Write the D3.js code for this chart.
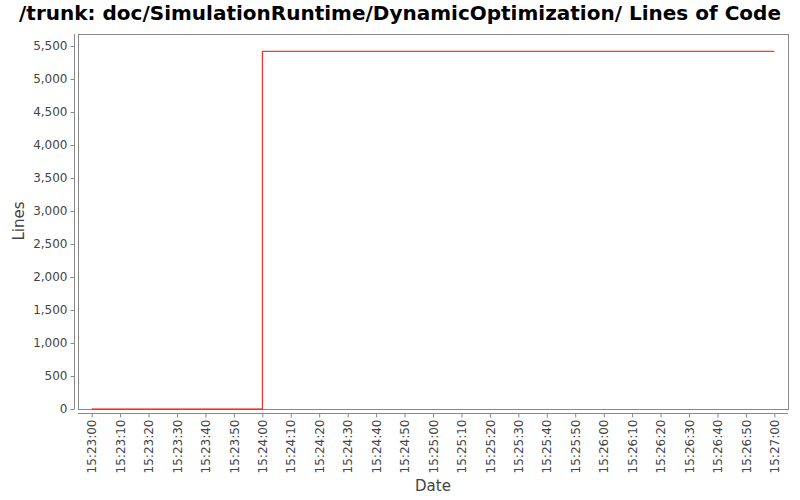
<!DOCTYPE html>
<html><head><meta charset="utf-8">
<script src="https://cdn.jsdelivr.net/npm/d3@7"></script>
<style>body{margin:0;background:#fff}svg{display:block}text{font-family:"DejaVu Sans",sans-serif}</style>
</head><body>
<svg id="c" width="800" height="500"></svg>
<script>
const title = "/trunk: doc/SimulationRuntime/DynamicOptimization/ Lines of Code";
const times = ["15:23:00","15:24:00","15:27:00"];
const lines = [0, 5420, 5420];
const yTicks = [0,500,1000,1500,2000,2500,3000,3500,4000,4500,5000,5500];
const xTickLabels = ["15:23:00","15:23:10","15:23:20","15:23:30","15:23:40","15:23:50","15:24:00","15:24:10","15:24:20","15:24:30","15:24:40","15:24:50","15:25:00","15:25:10","15:25:20","15:25:30","15:25:40","15:25:50","15:26:00","15:26:10","15:26:20","15:26:30","15:26:40","15:26:50","15:27:00"];

const parse = s => { const [h,m,sec] = s.split(":").map(Number); return new Date(2000,0,1,h,m,sec); };
const svg = d3.select("#c");
const L=78,R=788,T=34,B=409;
const t0 = parse(times[0]), t1 = parse(times[times.length-1]);
const span = t1 - t0;
const x = d3.scaleTime().domain([new Date(+t0 - span*0.02), new Date(+t1 + span*0.02)]).range([L,R]);
const y = d3.scaleLinear().domain([0, 5682]).range([B,T]);

svg.append("text").attr("x",400).attr("y",20).attr("text-anchor","middle")
  .style("font-size","20px").style("font-weight","bold").attr("fill","#000").text(title);

svg.append("rect").attr("x",L).attr("y",T).attr("width",R-L).attr("height",B-T)
  .attr("fill","#fff").attr("stroke","#888").attr("stroke-width",1).attr("shape-rendering","crispEdges");

// y axis
const ya = svg.append("g").attr("transform","translate(74.5,0)")
  .call(d3.axisLeft(y).tickValues(yTicks).tickSize(4).tickPadding(3).tickFormat(d3.format(",")));
ya.select(".domain").attr("stroke","#888").attr("d",`M0,${T}V${B}`);
ya.selectAll(".tick line").attr("stroke","#888");
ya.selectAll("text").style("font-size","12px").attr("fill","#444").style("font-family","DejaVu Sans");

// x axis
const xa = svg.append("g").attr("transform","translate(0,413.5)")
  .call(d3.axisBottom(x).tickValues(xTickLabels.map(parse)).tickSize(4).tickFormat(d3.timeFormat("%H:%M:%S")));
xa.select(".domain").attr("stroke","#888").attr("d",`M${L},0H${R}`);
xa.selectAll(".tick line").attr("stroke","#888");
xa.selectAll("text").style("font-size","12px").attr("fill","#444").style("font-family","DejaVu Sans")
  .attr("transform","rotate(-90)").attr("text-anchor","end").attr("x",-6).attr("y",0).attr("dy","0.35em");

// axis labels
svg.append("text").attr("transform","translate(24,221) rotate(-90)").attr("text-anchor","middle")
  .style("font-size","15px").attr("fill","#444").text("Lines");
svg.append("text").attr("x",433).attr("y",491).attr("text-anchor","middle")
  .style("font-size","15px").attr("fill","#444").text("Date");

// data line
const data = times.map((t,i)=>({t:parse(t), v:lines[i]}));
svg.append("path").datum(data)
  .attr("d", d3.line().x(d=>x(d.t)).y(d=>y(d.v)).curve(d3.curveStepAfter))
  .attr("fill","none").attr("stroke","#ff0000").attr("stroke-width",1);
</script>
</body></html>
